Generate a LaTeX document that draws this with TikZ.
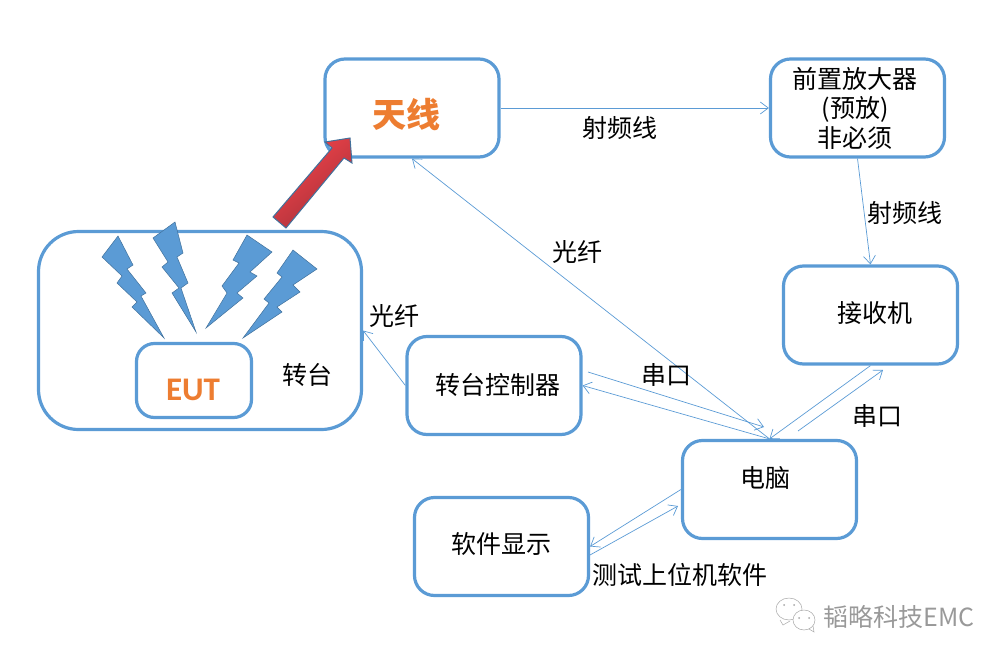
\documentclass[tikz,border=0pt]{standalone}
\usepackage{fontspec}
\setmainfont{Noto Sans CJK SC}
\newfontfamily\eutfont{Carlito}
\usetikzlibrary{arrows.meta}
\definecolor{boxblue}{HTML}{5B9BD5}
\definecolor{boltedge}{HTML}{41719C}
\definecolor{txtorange}{HTML}{ED7D31}
\definecolor{arrowlight}{HTML}{F5444A}
\definecolor{arrowdark}{HTML}{A5303A}
\tikzset{
    box/.style={draw=boxblue, line width=3.2pt, rounded corners=20pt, minimum width=174pt, minimum height=98pt},
    link/.style={draw=boxblue, line width=0.7pt, -{Straight Barb[length=8pt,width=12pt]}},
    lab/.style={font=\fontsize{25}{29.5}\selectfont, align=center, inner sep=0pt},
    bolt/.style={fill=boxblue, draw=boltedge, line width=0.5pt},
    mark text/.style={font=\fontsize{34}{40}\selectfont\bfseries, text=txtorange, inner sep=0pt}
}

\begin{document}
\begin{tikzpicture}[x=1pt, y=-1pt]
    \useasboundingbox (0,0) rectangle (1006,661);

    % Boxes
    \node[box] (antenna) at (412,108) {};
    \node[box] (preamp) at (857.5,108) {};
    \node[box] (receiver) at (870.5,315) {};
    \node[box, rounded corners=40pt, minimum width=323pt, minimum height=198pt] (turntable) at (200,330.5) {};
    \node[box, rounded corners=18pt, minimum width=115pt, minimum height=74pt] (eut) at (194,380.5) {};
    \node[box] (controller) at (494,385.5) {};
    \node[box] (pc) at (769.5,489.5) {};
    \node[box] (software) at (501.5,546.5) {};

    % Labels in the boxes
    \node[mark text] (antennaLab) at (406,115) {天线};
    \node[lab] (preampLab) at (855,108) {前置放大器\\(预放)\\非必须};
    \node[lab] (receiverLab) at (875,313) {接收机};
    \node[mark text, font=\eutfont\fontsize{33}{40}\selectfont\bfseries] (eutLab) at (193,390) {EUT};
    \node[lab] (turntableLab) at (307,375) {转台};
    \node[lab] (controllerLab) at (498,385) {转台控制器};
    \node[lab] (pcLab) at (765,478) {电脑};
    \node[lab] (softwareLab) at (501,544) {软件显示};

    % Free ends of the second lines
    \coordinate (ctrlOut) at (588,372);
    \coordinate (pcIn) at (764,427);
    \coordinate (pcOut) at (798,431);
    \coordinate (recvIn) at (883,370);
    \coordinate (softOut) at (590,555);
    \coordinate (pcSoft) at (678,506);

    % Connectors
    \draw[link] (antenna.east) -- (preamp.west);
    \draw[link] (preamp.south) -- (receiver.north);
    \draw[link] (pc.north) -- (antenna.south);
    \draw[link] (controller.west) -- (turntable.east);
    \draw[link] (ctrlOut) -- (pcIn);
    \draw[link] (pc.north) -- (controller.east);
    \draw[link] (receiver.south) -- (pc.north);
    \draw[link] (pcOut) -- (recvIn);
    \draw[link] (pc.west) -- (software.east);
    \draw[link] (softOut) -- (pcSoft);

    % Connector labels
    \node[lab] (rfA) at (620,128) {射频线};
    \node[lab] (rfB) at (905,213) {射频线};
    \node[lab] (fibreA) at (577,252) {光纤};
    \node[lab] (fibreB) at (394,316) {光纤};
    \node[lab] (serialA) at (666,375) {串口};
    \node[lab] (serialB) at (877,416) {串口};
    \node[lab] (testSoft) at (680,575) {测试上位机软件};

    % Lightning bolts
    \draw[bolt] (102,257) -- (118,236) -- (133,265) -- (127,269) -- (146,293) -- (141,296) -- (164,338) -- (132,307) -- (137,302) -- (117,283) -- (122,276) -- cycle;
    \draw[bolt] (153,238) -- (175,222) -- (183,253) -- (177,257) -- (188,283) -- (181,288) -- (196,332) -- (172,293) -- (179,288) -- (162,267) -- (168,262) -- cycle;
    \draw[bolt] (247,235) -- (272,252) -- (250,272) -- (257,276) -- (237,293) -- (243,298) -- (206,328) -- (227,293) -- (222,286) -- (239,263) -- (233,260) -- cycle;
    \draw[bolt] (293,250) -- (317,269) -- (293,285) -- (300,292) -- (277,307) -- (282,312) -- (243,338) -- (269,303) -- (264,299) -- (282,277) -- (277,273) -- cycle;

    % Red arrow
    \shade[draw=boltedge, line width=1pt, left color=arrowlight, right color=arrowdark, shading angle=40]
        (273,217) -- (332,148) -- (325,142) -- (350,138) -- (352,163) -- (344,158) -- (286,228) -- cycle;

    % Watermark
    \begin{scope}[draw=gray!70, line width=0.5pt]
        \draw (780,620) -- (783,625) -- (790,621);
        \draw[fill=white] (789,609) ellipse (13 and 11);
        \draw[fill=white] (804,620) ellipse (11 and 10);
        \draw (809,629) -- (814,632) -- (813,626);
        \fill[gray!70] (784,605) circle (1) (794,605) circle (1) (799,618) circle (1) (809,618) circle (1);
    \end{scope}
    \node[font=\fontsize{25}{28}\selectfont, text=gray!80, inner sep=0pt] (mark) at (899,617) {韬略科技EMC};
\end{tikzpicture}
\end{document}
